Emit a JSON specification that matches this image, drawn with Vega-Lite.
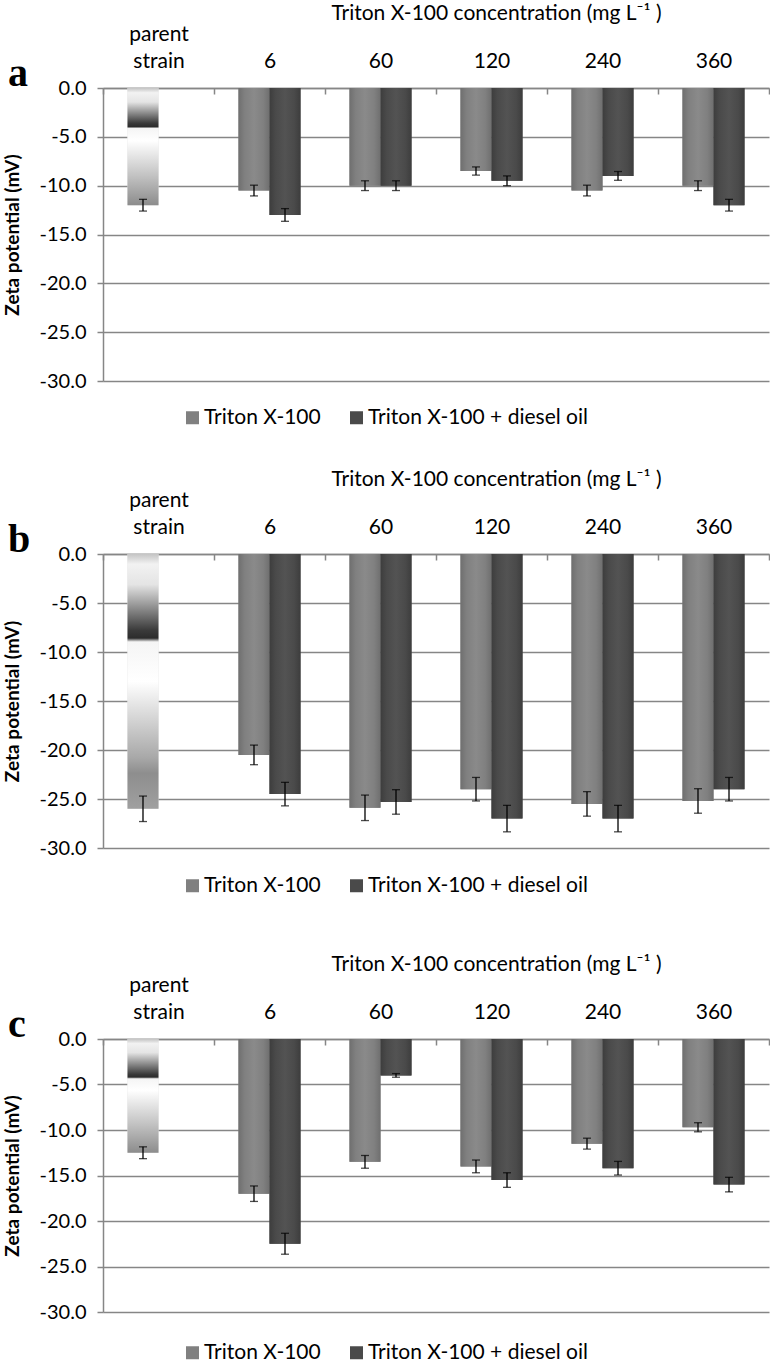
{
  "$schema": "https://vega.github.io/schema/vega-lite/v6.json",
  "padding": {"left": 3, "top": 2, "right": 0, "bottom": 0},
  "background": "white",
  "datasets": {
    "zeta": [
      {"panel": "a", "conc": "parent strain", "slot": "T", "series": "parent strain", "value": -12.0, "lo": -12.6, "hi": -11.4},
      {"panel": "a", "conc": "6", "slot": "T", "series": "Triton X-100", "value": -10.5, "lo": -11.05, "hi": -9.95},
      {"panel": "a", "conc": "6", "slot": "D", "series": "Triton X-100 + diesel oil", "value": -13.0, "lo": -13.65, "hi": -12.35},
      {"panel": "a", "conc": "60", "slot": "T", "series": "Triton X-100", "value": -10.0, "lo": -10.5, "hi": -9.5},
      {"panel": "a", "conc": "60", "slot": "D", "series": "Triton X-100 + diesel oil", "value": -10.0, "lo": -10.5, "hi": -9.5},
      {"panel": "a", "conc": "120", "slot": "T", "series": "Triton X-100", "value": -8.5, "lo": -8.92, "hi": -8.08},
      {"panel": "a", "conc": "120", "slot": "D", "series": "Triton X-100 + diesel oil", "value": -9.5, "lo": -10.0, "hi": -9.0},
      {"panel": "a", "conc": "240", "slot": "T", "series": "Triton X-100", "value": -10.5, "lo": -11.05, "hi": -9.95},
      {"panel": "a", "conc": "240", "slot": "D", "series": "Triton X-100 + diesel oil", "value": -9.0, "lo": -9.45, "hi": -8.55},
      {"panel": "a", "conc": "360", "slot": "T", "series": "Triton X-100", "value": -10.0, "lo": -10.5, "hi": -9.5},
      {"panel": "a", "conc": "360", "slot": "D", "series": "Triton X-100 + diesel oil", "value": -12.0, "lo": -12.6, "hi": -11.4},
      {"panel": "b", "conc": "parent strain", "slot": "T", "series": "parent strain", "value": -26.0, "lo": -27.3, "hi": -24.7},
      {"panel": "b", "conc": "6", "slot": "T", "series": "Triton X-100", "value": -20.5, "lo": -21.5, "hi": -19.5},
      {"panel": "b", "conc": "6", "slot": "D", "series": "Triton X-100 + diesel oil", "value": -24.5, "lo": -25.7, "hi": -23.3},
      {"panel": "b", "conc": "60", "slot": "T", "series": "Triton X-100", "value": -25.9, "lo": -27.2, "hi": -24.6},
      {"panel": "b", "conc": "60", "slot": "D", "series": "Triton X-100 + diesel oil", "value": -25.3, "lo": -26.55, "hi": -24.05},
      {"panel": "b", "conc": "120", "slot": "T", "series": "Triton X-100", "value": -24.0, "lo": -25.2, "hi": -22.8},
      {"panel": "b", "conc": "120", "slot": "D", "series": "Triton X-100 + diesel oil", "value": -27.0, "lo": -28.35, "hi": -25.65},
      {"panel": "b", "conc": "240", "slot": "T", "series": "Triton X-100", "value": -25.5, "lo": -26.75, "hi": -24.25},
      {"panel": "b", "conc": "240", "slot": "D", "series": "Triton X-100 + diesel oil", "value": -27.0, "lo": -28.35, "hi": -25.65},
      {"panel": "b", "conc": "360", "slot": "T", "series": "Triton X-100", "value": -25.2, "lo": -26.45, "hi": -23.95},
      {"panel": "b", "conc": "360", "slot": "D", "series": "Triton X-100 + diesel oil", "value": -24.0, "lo": -25.2, "hi": -22.8},
      {"panel": "c", "conc": "parent strain", "slot": "T", "series": "parent strain", "value": -12.5, "lo": -13.15, "hi": -11.85},
      {"panel": "c", "conc": "6", "slot": "T", "series": "Triton X-100", "value": -17.0, "lo": -17.85, "hi": -16.15},
      {"panel": "c", "conc": "6", "slot": "D", "series": "Triton X-100 + diesel oil", "value": -22.5, "lo": -23.65, "hi": -21.35},
      {"panel": "c", "conc": "60", "slot": "T", "series": "Triton X-100", "value": -13.5, "lo": -14.2, "hi": -12.8},
      {"panel": "c", "conc": "60", "slot": "D", "series": "Triton X-100 + diesel oil", "value": -4.0, "lo": -4.2, "hi": -3.8},
      {"panel": "c", "conc": "120", "slot": "T", "series": "Triton X-100", "value": -14.0, "lo": -14.7, "hi": -13.3},
      {"panel": "c", "conc": "120", "slot": "D", "series": "Triton X-100 + diesel oil", "value": -15.5, "lo": -16.3, "hi": -14.7},
      {"panel": "c", "conc": "240", "slot": "T", "series": "Triton X-100", "value": -11.5, "lo": -12.1, "hi": -10.9},
      {"panel": "c", "conc": "240", "slot": "D", "series": "Triton X-100 + diesel oil", "value": -14.2, "lo": -14.95, "hi": -13.45},
      {"panel": "c", "conc": "360", "slot": "T", "series": "Triton X-100", "value": -9.7, "lo": -10.2, "hi": -9.2},
      {"panel": "c", "conc": "360", "slot": "D", "series": "Triton X-100 + diesel oil", "value": -16.0, "lo": -16.8, "hi": -15.2}
    ]
  },
  "config": {
    "view": {"stroke": null},
    "font": "Lato",
    "axis": {
      "labelColor": "black",
      "titleColor": "black",
      "domainColor": "#868686",
      "tickColor": "#868686",
      "gridColor": "#868686",
      "gridWidth": 1.5,
      "tickWidth": 1.5,
      "labelFont": "Lato",
      "titleFont": "Lato"
    },
    "title": {"color": "black"}
  },
  "resolve": {"scale": {"color": "independent"}, "legend": {"color": "independent"}},
  "spacing": 57,
  "vconcat": [
    {
      "resolve": {"scale": {"color": "independent"}, "legend": {"color": "independent"}},
      "spacing": 40,
      "vconcat": [
        {
          "width": 666,
          "height": 293,
          "title": {"text": "a", "anchor": "start", "frame": "group", "orient": "top", "font": "Liberation Serif", "fontSize": 40, "fontWeight": "bold", "baseline": "alphabetic", "dx": -95, "dy": 124, "offset": 0},
          "data": {"name": "zeta"},
          "transform": [{"filter": "datum.panel == 'a'"}],
          "encoding": {
            "x": {
              "field": "conc", "type": "nominal",
              "sort": ["parent strain", "6", "60", "120", "240", "360"],
              "scale": {"paddingInner": 0, "paddingOuter": 0},
              "axis": {
                "orient": "top", "title": "Triton X-100 concentration (mg L⁻¹ )",
                "titleFontSize": 21, "titleFontWeight": "normal", "titleX": 393, "titlePadding": 0,
                "labelFontSize": 21, "labelAngle": 0, "labelPadding": 50, "labelLineHeight": 27,
                "labelExpr": "datum.value == 'parent strain' ? ['parent', 'strain'] : ['', datum.value]",
                "tickBand": "extent", "tickSize": -6, "domainWidth": 1.5
              }
            },
            "xOffset": {"field": "slot", "type": "nominal", "sort": ["T", "D"], "scale": {"domain": ["T", "D"], "paddingInner": 0, "paddingOuter": 0.79}},
            "y": {
              "field": "value", "type": "quantitative",
              "scale": {"domain": [-30, 0], "nice": false},
              "axis": {
                "title": "Zeta potential (mV)", "titleFontSize": 19, "titleFontWeight": "bold", "titlePadding": 17,
                "values": [0, -5, -10, -15, -20, -25, -30],
                "labelExpr": "datum.value == 0 ? '0.0' : '-' + format(-datum.value, '.1f')",
                "labelFontSize": 20, "labelPadding": 11, "tickSize": 6, "grid": true, "domainWidth": 1.5
              }
            }
          },
          "layer": [
            {
              "mark": {"type": "bar"},
              "encoding": {
                "color": {
                  "field": "series", "type": "nominal",
                  "scale": {"domain": ["Triton X-100", "Triton X-100 + diesel oil", "parent strain"], "range": ["#808080", "#4a4a4a", "#e0e0e0"]},
                  "legend": {
                    "values": ["Triton X-100", "Triton X-100 + diesel oil"],
                    "orient": "none", "legendX": 79, "legendY": 319, "direction": "horizontal",
                    "title": null, "symbolType": "square", "symbolSize": 169, "symbolStrokeWidth": 0,
                    "labelFontSize": 21, "labelColor": "black", "labelFont": "Lato", "labelOffset": 1, "labelLimit": 400, "columnPadding": 25, "padding": 0
                  }
                }
              }
            },
            {"transform": [{"filter": "datum.series == 'Triton X-100'"}], "mark": {"type": "bar", "fill": {"gradient": "linear", "x1": 0, "y1": 0, "x2": 1, "y2": 0, "stops": [{"offset": 0, "color": "#6f6f6f"}, {"offset": 0.2, "color": "#808080"}, {"offset": 0.5, "color": "#8a8a8a"}, {"offset": 0.8, "color": "#808080"}, {"offset": 1, "color": "#6f6f6f"}]}}},
            {"transform": [{"filter": "datum.series == 'Triton X-100 + diesel oil'"}], "mark": {"type": "bar", "fill": {"gradient": "linear", "x1": 0, "y1": 0, "x2": 1, "y2": 0, "stops": [{"offset": 0, "color": "#3d3d3d"}, {"offset": 0.2, "color": "#4a4a4a"}, {"offset": 0.5, "color": "#535353"}, {"offset": 0.8, "color": "#4a4a4a"}, {"offset": 1, "color": "#3d3d3d"}]}}},
            {"transform": [{"filter": "datum.series == 'parent strain'"}], "mark": {"type": "bar", "fill": {"gradient": "linear", "x1": 0, "y1": 0, "x2": 0, "y2": 1, "stops": [{"offset": 0, "color": "#c4c4c4"}, {"offset": 0.04, "color": "#f2f2f2"}, {"offset": 0.12, "color": "#e4e4e4"}, {"offset": 0.3, "color": "#3a3a3a"}, {"offset": 0.33, "color": "#2c2c2c"}, {"offset": 0.345, "color": "#f5f5f5"}, {"offset": 0.45, "color": "#ffffff"}, {"offset": 0.75, "color": "#c2c2c2"}, {"offset": 1, "color": "#8c8c8c"}]}}},
            {"mark": {"type": "rule", "color": "black", "strokeWidth": 1.3}, "encoding": {"y": {"field": "lo", "type": "quantitative"}, "y2": {"field": "hi"}}},
            {"mark": {"type": "tick", "color": "black", "size": 8, "thickness": 1.3}, "encoding": {"y": {"field": "lo", "type": "quantitative"}}},
            {"mark": {"type": "tick", "color": "black", "size": 8, "thickness": 1.3}, "encoding": {"y": {"field": "hi", "type": "quantitative"}}}
          ]
        },
        {
          "width": 666,
          "height": 294,
          "title": {"text": "b", "anchor": "start", "frame": "group", "orient": "top", "font": "Liberation Serif", "fontSize": 40, "fontWeight": "bold", "baseline": "alphabetic", "dx": -95, "dy": 124, "offset": 0},
          "data": {"name": "zeta"},
          "transform": [{"filter": "datum.panel == 'b'"}],
          "encoding": {
            "x": {
              "field": "conc", "type": "nominal",
              "sort": ["parent strain", "6", "60", "120", "240", "360"],
              "scale": {"paddingInner": 0, "paddingOuter": 0},
              "axis": {
                "orient": "top", "title": "Triton X-100 concentration (mg L⁻¹ )",
                "titleFontSize": 21, "titleFontWeight": "normal", "titleX": 393, "titlePadding": 0,
                "labelFontSize": 21, "labelAngle": 0, "labelPadding": 50, "labelLineHeight": 27,
                "labelExpr": "datum.value == 'parent strain' ? ['parent', 'strain'] : ['', datum.value]",
                "tickBand": "extent", "tickSize": -6, "domainWidth": 1.5
              }
            },
            "xOffset": {"field": "slot", "type": "nominal", "sort": ["T", "D"], "scale": {"domain": ["T", "D"], "paddingInner": 0, "paddingOuter": 0.79}},
            "y": {
              "field": "value", "type": "quantitative",
              "scale": {"domain": [-30, 0], "nice": false},
              "axis": {
                "title": "Zeta potential (mV)", "titleFontSize": 19, "titleFontWeight": "bold", "titlePadding": 17,
                "values": [0, -5, -10, -15, -20, -25, -30],
                "labelExpr": "datum.value == 0 ? '0.0' : '-' + format(-datum.value, '.1f')",
                "labelFontSize": 20, "labelPadding": 11, "tickSize": 6, "grid": true, "domainWidth": 1.5
              }
            }
          },
          "layer": [
            {
              "mark": {"type": "bar"},
              "encoding": {
                "color": {
                  "field": "series", "type": "nominal",
                  "scale": {"domain": ["Triton X-100", "Triton X-100 + diesel oil", "parent strain"], "range": ["#808080", "#4a4a4a", "#e0e0e0"]},
                  "legend": {
                    "values": ["Triton X-100", "Triton X-100 + diesel oil"],
                    "orient": "none", "legendX": 79, "legendY": 321, "direction": "horizontal",
                    "title": null, "symbolType": "square", "symbolSize": 169, "symbolStrokeWidth": 0,
                    "labelFontSize": 21, "labelColor": "black", "labelFont": "Lato", "labelOffset": 1, "labelLimit": 400, "columnPadding": 25, "padding": 0
                  }
                }
              }
            },
            {"transform": [{"filter": "datum.series == 'Triton X-100'"}], "mark": {"type": "bar", "fill": {"gradient": "linear", "x1": 0, "y1": 0, "x2": 1, "y2": 0, "stops": [{"offset": 0, "color": "#6f6f6f"}, {"offset": 0.2, "color": "#808080"}, {"offset": 0.5, "color": "#8a8a8a"}, {"offset": 0.8, "color": "#808080"}, {"offset": 1, "color": "#6f6f6f"}]}}},
            {"transform": [{"filter": "datum.series == 'Triton X-100 + diesel oil'"}], "mark": {"type": "bar", "fill": {"gradient": "linear", "x1": 0, "y1": 0, "x2": 1, "y2": 0, "stops": [{"offset": 0, "color": "#3d3d3d"}, {"offset": 0.2, "color": "#4a4a4a"}, {"offset": 0.5, "color": "#535353"}, {"offset": 0.8, "color": "#4a4a4a"}, {"offset": 1, "color": "#3d3d3d"}]}}},
            {"transform": [{"filter": "datum.series == 'parent strain'"}], "mark": {"type": "bar", "fill": {"gradient": "linear", "x1": 0, "y1": 0, "x2": 0, "y2": 1, "stops": [{"offset": 0, "color": "#c4c4c4"}, {"offset": 0.04, "color": "#f2f2f2"}, {"offset": 0.12, "color": "#e4e4e4"}, {"offset": 0.3, "color": "#3a3a3a"}, {"offset": 0.33, "color": "#2c2c2c"}, {"offset": 0.345, "color": "#f5f5f5"}, {"offset": 0.5, "color": "#ffffff"}, {"offset": 0.8, "color": "#a8a8a8"}, {"offset": 0.86, "color": "#8e8e8e"}, {"offset": 1, "color": "#a0a0a0"}]}}},
            {"mark": {"type": "rule", "color": "black", "strokeWidth": 1.3}, "encoding": {"y": {"field": "lo", "type": "quantitative"}, "y2": {"field": "hi"}}},
            {"mark": {"type": "tick", "color": "black", "size": 8, "thickness": 1.3}, "encoding": {"y": {"field": "lo", "type": "quantitative"}}},
            {"mark": {"type": "tick", "color": "black", "size": 8, "thickness": 1.3}, "encoding": {"y": {"field": "hi", "type": "quantitative"}}}
          ]
        }
      ]
    },
    {
      "width": 666,
      "height": 273,
      "title": {"text": "c", "anchor": "start", "frame": "group", "orient": "top", "font": "Liberation Serif", "fontSize": 40, "fontWeight": "bold", "baseline": "alphabetic", "dx": -95, "dy": 124, "offset": 0},
      "data": {"name": "zeta"},
      "transform": [{"filter": "datum.panel == 'c'"}],
      "encoding": {
        "x": {
          "field": "conc", "type": "nominal",
          "sort": ["parent strain", "6", "60", "120", "240", "360"],
          "scale": {"paddingInner": 0, "paddingOuter": 0},
          "axis": {
            "orient": "top", "title": "Triton X-100 concentration (mg L⁻¹ )",
            "titleFontSize": 21, "titleFontWeight": "normal", "titleX": 393, "titlePadding": 0,
            "labelFontSize": 21, "labelAngle": 0, "labelPadding": 50, "labelLineHeight": 27,
            "labelExpr": "datum.value == 'parent strain' ? ['parent', 'strain'] : ['', datum.value]",
            "tickBand": "extent", "tickSize": -6, "domainWidth": 1.5
          }
        },
        "xOffset": {"field": "slot", "type": "nominal", "sort": ["T", "D"], "scale": {"domain": ["T", "D"], "paddingInner": 0, "paddingOuter": 0.79}},
        "y": {
          "field": "value", "type": "quantitative",
          "scale": {"domain": [-30, 0], "nice": false},
          "axis": {
            "title": "Zeta potential (mV)", "titleFontSize": 19, "titleFontWeight": "bold", "titlePadding": 17,
            "values": [0, -5, -10, -15, -20, -25, -30],
            "labelExpr": "datum.value == 0 ? '0.0' : '-' + format(-datum.value, '.1f')",
            "labelFontSize": 20, "labelPadding": 11, "tickSize": 6, "grid": true, "domainWidth": 1.5
          }
        }
      },
      "layer": [
        {
          "mark": {"type": "bar"},
          "encoding": {
            "color": {
              "field": "series", "type": "nominal",
              "scale": {"domain": ["Triton X-100", "Triton X-100 + diesel oil", "parent strain"], "range": ["#808080", "#4a4a4a", "#e0e0e0"]},
              "legend": {
                "values": ["Triton X-100", "Triton X-100 + diesel oil"],
                "orient": "none", "legendX": 79, "legendY": 303, "direction": "horizontal",
                "title": null, "symbolType": "square", "symbolSize": 169, "symbolStrokeWidth": 0,
                "labelFontSize": 21, "labelColor": "black", "labelFont": "Lato", "labelOffset": 1, "labelLimit": 400, "columnPadding": 25, "padding": 0
              }
            }
          }
        },
        {"transform": [{"filter": "datum.series == 'Triton X-100'"}], "mark": {"type": "bar", "fill": {"gradient": "linear", "x1": 0, "y1": 0, "x2": 1, "y2": 0, "stops": [{"offset": 0, "color": "#6f6f6f"}, {"offset": 0.2, "color": "#808080"}, {"offset": 0.5, "color": "#8a8a8a"}, {"offset": 0.8, "color": "#808080"}, {"offset": 1, "color": "#6f6f6f"}]}}},
        {"transform": [{"filter": "datum.series == 'Triton X-100 + diesel oil'"}], "mark": {"type": "bar", "fill": {"gradient": "linear", "x1": 0, "y1": 0, "x2": 1, "y2": 0, "stops": [{"offset": 0, "color": "#3d3d3d"}, {"offset": 0.2, "color": "#4a4a4a"}, {"offset": 0.5, "color": "#535353"}, {"offset": 0.8, "color": "#4a4a4a"}, {"offset": 1, "color": "#3d3d3d"}]}}},
        {"transform": [{"filter": "datum.series == 'parent strain'"}], "mark": {"type": "bar", "fill": {"gradient": "linear", "x1": 0, "y1": 0, "x2": 0, "y2": 1, "stops": [{"offset": 0, "color": "#c4c4c4"}, {"offset": 0.04, "color": "#f2f2f2"}, {"offset": 0.12, "color": "#e4e4e4"}, {"offset": 0.31, "color": "#3a3a3a"}, {"offset": 0.335, "color": "#2c2c2c"}, {"offset": 0.35, "color": "#f5f5f5"}, {"offset": 0.45, "color": "#ffffff"}, {"offset": 0.75, "color": "#c2c2c2"}, {"offset": 1, "color": "#8c8c8c"}]}}},
        {"mark": {"type": "rule", "color": "black", "strokeWidth": 1.3}, "encoding": {"y": {"field": "lo", "type": "quantitative"}, "y2": {"field": "hi"}}},
        {"mark": {"type": "tick", "color": "black", "size": 8, "thickness": 1.3}, "encoding": {"y": {"field": "lo", "type": "quantitative"}}},
        {"mark": {"type": "tick", "color": "black", "size": 8, "thickness": 1.3}, "encoding": {"y": {"field": "hi", "type": "quantitative"}}}
      ]
    }
  ]
}
